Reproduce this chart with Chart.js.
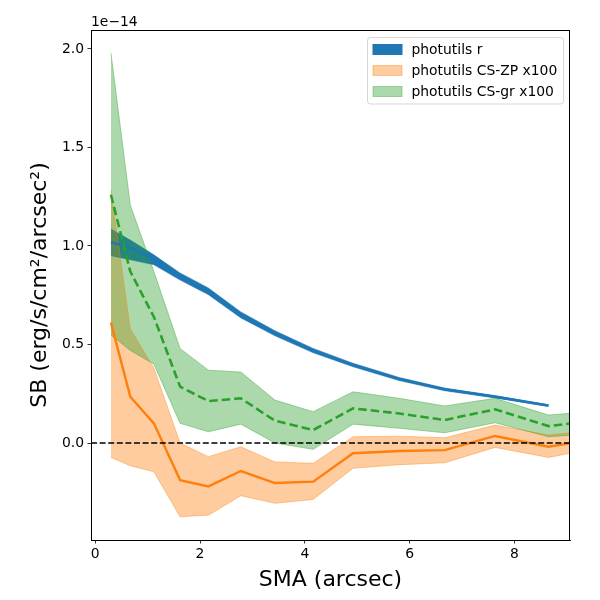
<!DOCTYPE html>
<html><head><meta charset="utf-8">
<script src="https://cdn.jsdelivr.net/npm/chart.js@4/dist/chart.umd.min.js"></script>
<style>html,body{margin:0;padding:0;background:#fff;}canvas{display:block;}</style>
</head><body>
<canvas id="c" width="600" height="600" style="width:600px;height:600px"></canvas>
<script>
// ---- data (surface brightness in units of 1e-14 erg/s/cm^2/arcsec^2) ----
const smaR    = [0.30, 0.67, 1.12, 1.62, 2.16, 2.78, 3.43, 4.16, 4.92, 5.80, 6.67, 7.63, 8.65];
const rMid    = [1.020, 0.990, 0.935, 0.845, 0.770, 0.650, 0.557, 0.469, 0.396, 0.325, 0.272, 0.235, 0.190];
const rUpper  = [1.086, 1.030, 0.955, 0.863, 0.787, 0.665, 0.570, 0.480, 0.405, 0.333, 0.279, 0.241, 0.195];
const rLower  = [0.951, 0.930, 0.905, 0.827, 0.753, 0.635, 0.544, 0.458, 0.387, 0.317, 0.265, 0.229, 0.185];

const smaCS   = [0.30, 0.67, 1.12, 1.62, 2.16, 2.78, 3.43, 4.16, 4.92, 5.80, 6.67, 7.63, 8.65, 9.70];
const zpMid   = [0.611, 0.235, 0.100, -0.188, -0.220, -0.142, -0.203, -0.196, -0.052, -0.040, -0.036, 0.036, -0.019, 0.025];
const zpUpper = [1.284, 0.580, 0.380, 0.000, -0.069, -0.019, -0.096, -0.103, 0.032, 0.035, 0.027, 0.091, 0.041, 0.070];
const zpLower = [-0.073, -0.115, -0.146, -0.374, -0.366, -0.267, -0.306, -0.286, -0.128, -0.110, -0.100, -0.022, -0.073, -0.020];
const grMid   = [1.260, 0.870, 0.640, 0.286, 0.213, 0.227, 0.113, 0.066, 0.176, 0.150, 0.117, 0.171, 0.086, 0.120];
const grUpper = [1.980, 1.208, 0.870, 0.480, 0.370, 0.360, 0.218, 0.159, 0.260, 0.227, 0.188, 0.227, 0.142, 0.165];
const grLower = [0.548, 0.470, 0.400, 0.100, 0.057, 0.096, 0.000, -0.032, 0.096, 0.075, 0.052, 0.103, 0.032, 0.050];

const xLimits = [-0.08, 9.06];
const yLimits = [-0.492, 2.096];
const xTicks  = [0, 2, 4, 6, 8];
const yTicks  = [0.0, 0.5, 1.0, 1.5, 2.0];
const zeroLevel = [0, 0];

const legendLabels = ['photutils r', 'photutils CS-ZP x100', 'photutils CS-gr x100'];
const offsetLabel = '1e\u221214';

// ---- styling ----
const BLUE = '#1f77b4', ORANGE = '#ff7f0e', GREEN = '#2ca02c';
const ORANGE_A = 'rgba(255,127,14,0.4)', GREEN_A = 'rgba(44,160,44,0.4)';
const FONT = 'DejaVu Sans';

const pts = (xs, ys) => xs.map((x, i) => ({x: x, y: ys[i]}));
const base = {pointRadius: 0, pointHoverRadius: 0, tension: 0, fill: false};

const datasets = [
  Object.assign({}, base, {data: pts(xLimits, zeroLevel), borderColor: '#000', borderWidth: 1.5, borderDash: [6, 2.6]}),
  Object.assign({}, base, {data: pts(smaCS, grMid), borderColor: GREEN, borderWidth: 2.6, borderDash: [8.5, 4]}),
  Object.assign({}, base, {data: pts(smaCS, zpMid), borderColor: ORANGE, borderWidth: 2.4}),
  Object.assign({}, base, {data: pts(smaR, rMid), borderColor: BLUE, borderWidth: 2.4}),
  Object.assign({}, base, {data: pts(smaCS, grLower), borderColor: GREEN_A, borderWidth: 1}),
  Object.assign({}, base, {data: pts(smaCS, grUpper), borderColor: GREEN_A, borderWidth: 1, fill: '-1', backgroundColor: GREEN_A}),
  Object.assign({}, base, {data: pts(smaCS, zpLower), borderColor: ORANGE_A, borderWidth: 1}),
  Object.assign({}, base, {data: pts(smaCS, zpUpper), borderColor: ORANGE_A, borderWidth: 1, fill: '-1', backgroundColor: ORANGE_A}),
  Object.assign({}, base, {data: pts(smaR, rLower), borderColor: BLUE, borderWidth: 0.5}),
  Object.assign({}, base, {data: pts(smaR, rUpper), borderColor: BLUE, borderWidth: 0.5, fill: '-1', backgroundColor: BLUE})
];

const decorPlugin = {
  id: 'decor',
  afterDraw(chart) {
    const ctx = chart.ctx, a = chart.chartArea;
    ctx.save();
    // frame (all four spines)
    ctx.strokeStyle = '#000'; ctx.lineWidth = 1;
    ctx.strokeRect(a.left + 0.5, a.top + 0.5, a.right - a.left - 1, a.bottom - a.top);
    // offset text
    ctx.fillStyle = '#000';
    ctx.font = '13.9px "' + FONT + '"';
    ctx.textAlign = 'left'; ctx.textBaseline = 'alphabetic';
    ctx.fillText(offsetLabel, a.left, a.top - 4);
    // legend
    const bx = 367.5, by = 37.5, bw = 196, bh = 66.5;
    ctx.fillStyle = 'rgba(255,255,255,0.8)';
    ctx.strokeStyle = 'rgba(204,204,204,0.8)';
    ctx.lineWidth = 1;
    ctx.beginPath();
    if (ctx.roundRect) ctx.roundRect(bx, by, bw, bh, 3); else ctx.rect(bx, by, bw, bh);
    ctx.fill(); ctx.stroke();
    const fills = [BLUE, ORANGE_A, GREEN_A];
    const edges = [BLUE, ORANGE_A, GREEN_A];
    const rows = [49.5, 70.5, 91.5];
    for (let i = 0; i < legendLabels.length; i++) {
      ctx.fillStyle = '#fff';
      ctx.fillRect(373, rows[i] - 5, 29, 10);
      ctx.fillStyle = fills[i];
      ctx.fillRect(373, rows[i] - 5, 29, 10);
      ctx.strokeStyle = edges[i]; ctx.lineWidth = 1;
      ctx.strokeRect(373, rows[i] - 5, 29, 10);
      ctx.fillStyle = '#000';
      ctx.font = '13.9px "' + FONT + '"';
      ctx.textBaseline = 'middle';
      ctx.fillText(legendLabels[i], 411.5, rows[i] + 0.5);
    }
    ctx.restore();
  }
};

new Chart(document.getElementById('c'), {
  type: 'line',
  data: {datasets: datasets},
  plugins: [decorPlugin],
  options: {
    responsive: false,
    animation: false,
    devicePixelRatio: 1,
    layout: {padding: {left: 0, right: 30, top: 30, bottom: 0}},
    plugins: {
      legend: {display: false},
      tooltip: {enabled: false},
      filler: {drawTime: 'beforeDatasetsDraw', propagate: false}
    },
    scales: {
      x: {
        type: 'linear', min: xLimits[0], max: xLimits[1],
        afterBuildTicks: s => { s.ticks = xTicks.map(v => ({value: v})); },
        afterFit: s => { s.height = 60; },
        grid: {display: true, drawOnChartArea: false, drawTicks: true, tickLength: 3.5, color: '#000', lineWidth: 0.8},
        border: {display: true, color: '#000', width: 1},
        ticks: {color: '#000', font: {family: FONT, size: 13.9}, padding: 3, maxRotation: 0, autoSkip: false,
                callback: v => String(v)},
        title: {display: true, text: 'SMA (arcsec)', color: '#000', font: {family: FONT, size: 22}, padding: {top: 0, bottom: 7}}
      },
      y: {
        type: 'linear', min: yLimits[0], max: yLimits[1],
        afterBuildTicks: s => { s.ticks = yTicks.map(v => ({value: v})); },
        afterFit: s => { s.width = 91; },
        grid: {display: true, drawOnChartArea: false, drawTicks: true, tickLength: 3.5, color: '#000', lineWidth: 0.8},
        border: {display: true, color: '#000', width: 1},
        ticks: {color: '#000', font: {family: FONT, size: 13.9}, padding: 3.5, autoSkip: false,
                callback: v => Number(v).toFixed(1)},
        title: {display: true, text: 'SB (erg/s/cm\u00B2/arcsec\u00B2)', color: '#000', font: {family: FONT, size: 22}, padding: {top: 27, bottom: 0}}
      }
    }
  }
});
</script>
</body></html>
